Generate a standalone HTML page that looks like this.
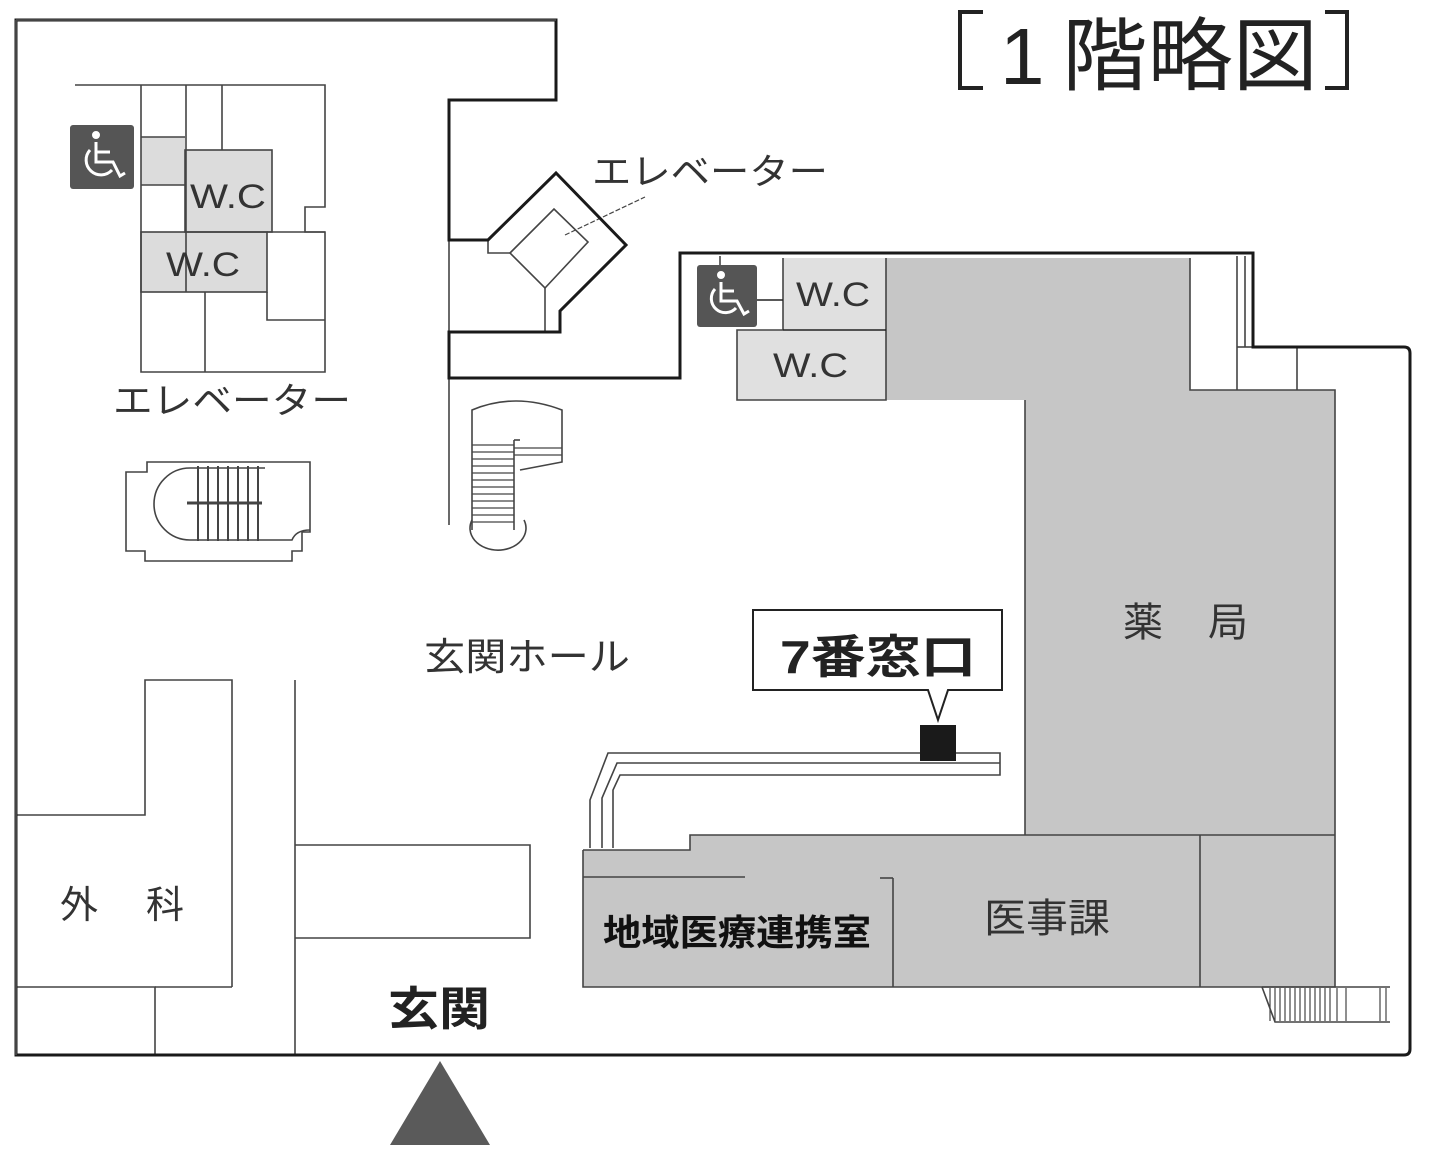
<!DOCTYPE html>
<html><head><meta charset="utf-8"><style>
html,body{margin:0;padding:0;background:#fff;}
svg{display:block;}
text{font-family:"Liberation Sans","Noto Sans CJK JP",sans-serif;}
</style></head><body>
<svg width="1431" height="1162" viewBox="0 0 1431 1162" xmlns="http://www.w3.org/2000/svg">
<polygon points="886,258 1190,258 1190,390 1335,390 1335,835 1025,835 1025,400 886,400" fill="#c6c6c6"/>
<polygon points="583,850 690,850 690,835 1335,835 1335,987 583,987" fill="#c6c6c6"/>
<rect x="783" y="258" width="103" height="72" fill="#e0e0e0"/>
<rect x="737" y="330" width="149" height="70" fill="#e0e0e0"/>
<rect x="185" y="150" width="87" height="82" fill="#dcdcdc"/>
<rect x="141" y="232" width="126" height="60" fill="#dcdcdc"/>
<rect x="141" y="137" width="44" height="48" fill="#dcdcdc"/>

<g fill="none" stroke="#444" stroke-width="1.6">
<polyline points="1190,258 1190,390 1335,390 1335,835"/>
<polyline points="886,258 886,400 737,400 737,330 783,330"/>
<polyline points="1025,400 1025,835"/>
<polyline points="583,850 690,850 690,835 1335,835"/>
<polyline points="583,850 583,987 1335,987 1335,835"/>
<line x1="893" y1="878" x2="893" y2="987"/>
<line x1="880" y1="878" x2="893" y2="878"/>
<line x1="1200" y1="835" x2="1200" y2="987"/>
<line x1="583" y1="877" x2="745" y2="877"/>
<line x1="1237" y1="256" x2="1237" y2="390"/>
<line x1="1245" y1="256" x2="1245" y2="347"/>
<line x1="1297" y1="347" x2="1297" y2="390"/>
<line x1="1237" y1="347" x2="1253" y2="347"/>
<line x1="783" y1="258" x2="783" y2="330"/>
<line x1="783" y1="330" x2="886" y2="330" stroke="#222"/>
<line x1="757" y1="300" x2="783" y2="300" stroke="#222"/>
<line x1="720" y1="256" x2="720" y2="270"/>
<polyline points="75,85 325,85 325,207 305,207 305,232 325,232 325,372 141,372 141,85"/>
<line x1="186" y1="85" x2="186" y2="292"/>
<line x1="222" y1="85" x2="222" y2="150"/>
<rect x="185" y="150" width="87" height="82"/>
<rect x="141" y="232" width="126" height="60"/>
<line x1="141" y1="137" x2="185" y2="137"/>
<line x1="141" y1="185" x2="185" y2="185"/>
<polyline points="267,232 325,232"/>
<polyline points="267,292 267,320 325,320"/>
<line x1="205" y1="292" x2="205" y2="372"/>
<polygon points="147,462 310,462 310,532 302,532 302,551 292,551 292,561 145,561 145,551 126,551 126,472 147,472"/>
<path d="M190,468 A36,36 0 0 0 190,540 L292,540 Q296,530 310,530"/>
<line x1="190" y1="468" x2="265" y2="468"/>
<line x1="187" y1="503" x2="262" y2="503" stroke-width="3"/>
<path d="M472,530 L472,410 Q515,392 562,410 L562,462 L520,470"/>
<path d="M472,520 A28,22 0 1 0 524,520"/>
<line x1="514" y1="440" x2="514" y2="530"/>
<line x1="514" y1="440" x2="520" y2="440"/>
<line x1="449" y1="240" x2="449" y2="332"/>
<line x1="449" y1="378" x2="449" y2="525"/>
<polyline points="488,240 488,253 510,253"/>
<polygon points="510,253 554,209 588,242 545,288"/>
<line x1="545" y1="288" x2="545" y2="332"/>
<line x1="565" y1="235" x2="645" y2="197" stroke-dasharray="5,2" stroke-width="1.2"/>
<polyline points="16,815 145,815 145,680 232,680 232,987"/>
<polyline points="16,987 155,987 155,1055"/>
<line x1="155" y1="987" x2="232" y2="987"/>
<line x1="295" y1="680" x2="295" y2="1055"/>
<polyline points="295,845 530,845 530,938 295,938"/>
<polyline points="590,848 590,800 608,753 1000,753 1000,775 620,775 613,790 613,848"/>
<polyline points="602,848 602,798 617,763 1000,763"/>
<polyline points="1262,987 1275,1022 1390,1022"/>
<line x1="1262" y1="987" x2="1390" y2="987"/>
</g>
<g stroke="#444" stroke-width="1.2">
<line x1="1270" y1="988" x2="1270" y2="1021"/><line x1="1275" y1="988" x2="1275" y2="1021"/><line x1="1280" y1="988" x2="1280" y2="1021"/><line x1="1285" y1="988" x2="1285" y2="1021"/><line x1="1290" y1="988" x2="1290" y2="1021"/><line x1="1295" y1="988" x2="1295" y2="1021"/><line x1="1300" y1="988" x2="1300" y2="1021"/><line x1="1305" y1="988" x2="1305" y2="1021"/><line x1="1310" y1="988" x2="1310" y2="1021"/><line x1="1315" y1="988" x2="1315" y2="1021"/><line x1="1320" y1="988" x2="1320" y2="1021"/><line x1="1325" y1="988" x2="1325" y2="1021"/><line x1="1330" y1="988" x2="1330" y2="1021"/><line x1="1337" y1="988" x2="1337" y2="1021"/><line x1="1346" y1="988" x2="1346" y2="1021"/><line x1="1380" y1="988" x2="1380" y2="1021"/><line x1="1386" y1="988" x2="1386" y2="1021"/>
</g>
<g stroke="#444" stroke-width="2">
<line x1="198" y1="466" x2="198" y2="541"/><line x1="208" y1="466" x2="208" y2="541"/><line x1="218" y1="466" x2="218" y2="541"/><line x1="228" y1="466" x2="228" y2="541"/><line x1="238" y1="466" x2="238" y2="541"/><line x1="248" y1="466" x2="248" y2="541"/><line x1="258" y1="466" x2="258" y2="541"/>
</g>
<g stroke="#444" stroke-width="1.3">
<line x1="472" y1="445" x2="514" y2="445"/><line x1="472" y1="452" x2="514" y2="452"/><line x1="472" y1="459" x2="514" y2="459"/><line x1="472" y1="466" x2="514" y2="466"/><line x1="472" y1="473" x2="514" y2="473"/><line x1="472" y1="480" x2="514" y2="480"/><line x1="472" y1="487" x2="514" y2="487"/><line x1="472" y1="494" x2="514" y2="494"/><line x1="472" y1="501" x2="514" y2="501"/><line x1="472" y1="508" x2="514" y2="508"/><line x1="472" y1="515" x2="514" y2="515"/><line x1="472" y1="522" x2="514" y2="522"/>
<line x1="514" y1="448" x2="562" y2="448"/><line x1="514" y1="455" x2="562" y2="455"/>
</g>
<path d="M449,240 L488,240 L556,173 L626,245 L560,311 L560,332 L449,332 L449,378 L680,378 L680,253 L1253,253 L1253,347 L1404,347 Q1410,347 1410,353 L1410,1049 Q1410,1055 1404,1055 L16,1055 L16,20 L556,20 L556,100 L449,100 Z" fill="none" stroke="#1a1a1a" stroke-width="3"/>
<line x1="16" y1="20" x2="16" y2="1055" stroke="#444" stroke-width="2"/>
<line x1="16" y1="20" x2="556" y2="20" stroke="#444" stroke-width="2"/>

<rect x="70" y="125" width="64" height="64" rx="3" fill="#555"/>
<rect x="697" y="265" width="60" height="62" rx="3" fill="#555"/>
<g fill="none" stroke="#fff" stroke-width="3">
<circle cx="96" cy="135" r="2.5" fill="#fff"/>
<path d="M96,142 L96,162 L113,162 L120,176 L125,173"/>
<line x1="96" y1="152" x2="110" y2="152"/>
<path d="M90,150 A14,14 0 1 0 112,170"/>
<circle cx="721" cy="275" r="2.5" fill="#fff"/>
<path d="M721,282 L721,301 L737,301 L744,314 L749,311"/>
<line x1="721" y1="291" x2="734" y2="291"/>
<path d="M715,289 A13,13 0 1 0 736,308"/>
</g>

<polygon points="753,610 1002,610 1002,690 948,690 938,720 928,690 753,690" fill="#fff" stroke="#222" stroke-width="2"/>
<rect x="920" y="725" width="36" height="36" fill="#1a1a1a"/>
<polygon points="390,1145 440,1061 490,1145" fill="#5a5a5a"/>

<g fill="none" stroke="#222" stroke-width="4">
<polyline points="983,12 960,12 960,88 983,88"/>
<polyline points="1325,12 1347,12 1347,88 1325,88"/>
</g>
<g fill="#222">
<text x="1000" y="84" font-size="80">1</text>
<text x="1062" y="84" font-size="80" textLength="256" lengthAdjust="spacingAndGlyphs">階略図</text>
</g>
<g fill="#333">
<text x="592" y="184" font-size="36" textLength="236" lengthAdjust="spacingAndGlyphs">エレベーター</text>
<text x="113" y="413" font-size="36" textLength="238" lengthAdjust="spacingAndGlyphs">エレベーター</text>
<text x="190" y="208" font-size="34" textLength="76" lengthAdjust="spacingAndGlyphs">W.C</text>
<text x="166" y="276" font-size="34" textLength="74" lengthAdjust="spacingAndGlyphs">W.C</text>
<text x="796" y="306" font-size="34" textLength="74" lengthAdjust="spacingAndGlyphs">W.C</text>
<text x="773" y="377" font-size="34" textLength="75" lengthAdjust="spacingAndGlyphs">W.C</text>
<text x="424" y="670" font-size="38" textLength="206" lengthAdjust="spacingAndGlyphs">玄関ホール</text>
<text x="1123" y="636" font-size="40">薬</text>
<text x="1208" y="636" font-size="40">局</text>
<text x="984" y="932" font-size="40" textLength="126" lengthAdjust="spacingAndGlyphs">医事課</text>
<text x="60" y="918" font-size="38">外</text>
<text x="146" y="918" font-size="38">科</text>
</g>
<text x="603" y="945" font-size="36" font-weight="bold" fill="#111" textLength="268" lengthAdjust="spacingAndGlyphs">地域医療連携室</text>
<text x="388" y="1025" font-size="46" font-weight="bold" fill="#222" textLength="102" lengthAdjust="spacingAndGlyphs">玄関</text>
<text x="780" y="673" font-size="46" font-weight="bold" fill="#222" textLength="196" lengthAdjust="spacingAndGlyphs">7番窓口</text>
</svg>
</body></html>
